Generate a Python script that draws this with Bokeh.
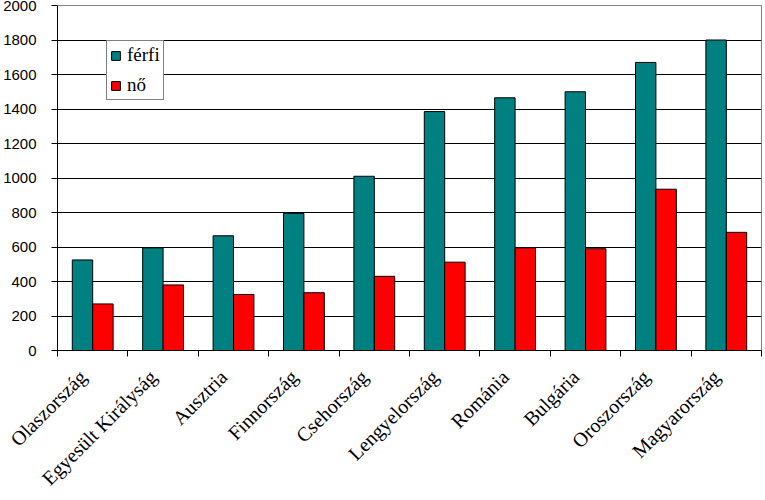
import math
from bokeh.plotting import figure
from bokeh.models import ColumnDataSource, FixedTicker, Range1d, Legend, LegendItem
from bokeh.transform import dodge
from bokeh.embed import file_html
from bokeh.resources import INLINE

categories = ["Olaszország", "Egyesült Királyság", "Ausztria", "Finnország", "Csehország",
              "Lengyelország", "Románia", "Bulgária", "Oroszország", "Magyarország"]
ferfi = [525, 595, 665, 795, 1010, 1385, 1465, 1500, 1670, 1800]
no = [270, 380, 325, 335, 430, 512, 595, 590, 935, 685]
y_ticks = [0, 200, 400, 600, 800, 1000, 1200, 1400, 1600, 1800, 2000]
grid_ticks = [200, 400, 600, 800, 1000, 1200, 1400, 1600, 1800]

n = len(categories)
centers = [i + 0.5 for i in range(n)]
bounds = list(range(n + 1))
label_pos = [c - 0.14 for c in centers]
src = ColumnDataSource(dict(x=centers, ferfi=ferfi, no=no))

p = figure(width=765, height=500, output_backend="svg", toolbar_location=None,
           x_range=Range1d(0, n), y_range=Range1d(0, 2000),
           min_border_left=56, min_border_right=4, min_border_top=5, min_border_bottom=150)
p.background_fill_color = "white"
p.border_fill_color = "white"
p.outline_line_color = "#808080"
p.outline_line_width = 1

r1 = p.vbar(x=dodge('x', -0.145), top='ferfi', width=0.29, source=src,
            fill_color="#008080", line_color="black", line_width=1)
r2 = p.vbar(x=dodge('x', 0.145), top='no', width=0.29, source=src,
            fill_color="#FF0000", line_color="black", line_width=1)

# x axis: boundary ticks as minor ticks, category names as rotated major labels
xa = p.xaxis[0]
xa.ticker = FixedTicker(ticks=label_pos, minor_ticks=bounds)
xa.major_label_overrides = {c: name for c, name in zip(label_pos, categories)}
xa.major_tick_out = 0
xa.major_tick_in = 0
xa.minor_tick_out = 6
xa.minor_tick_in = 0
xa.minor_tick_line_color = "black"
xa.axis_line_color = "black"
xa.major_label_orientation = math.pi / 4
xa.major_label_text_font = "Liberation Serif"
xa.major_label_text_font_size = "20px"
xa.major_label_text_color = "black"
xa.major_label_standoff = 17

ya = p.yaxis[0]
ya.ticker = FixedTicker(ticks=y_ticks)
ya.major_tick_out = 6
ya.major_tick_in = 0
ya.minor_tick_out = 0
ya.minor_tick_in = 0
ya.axis_line_color = "black"
ya.major_tick_line_color = "black"
ya.major_label_text_font = "Liberation Sans"
ya.major_label_text_font_size = "15px"
ya.major_label_text_color = "black"
ya.major_label_standoff = 15

p.xgrid.visible = False
p.ygrid.ticker = FixedTicker(ticks=grid_ticks)
p.ygrid.grid_line_color = "black"
p.ygrid.grid_line_width = 1

legend = Legend(items=[LegendItem(label="férfi", renderers=[r1]),
                       LegendItem(label="nő", renderers=[r2])],
                location=(49, 250))
legend.border_line_color = "black"
legend.border_line_width = 1
legend.background_fill_color = "white"
legend.background_fill_alpha = 1
legend.label_text_font = "Liberation Serif"
legend.label_text_font_size = "19px"
legend.label_text_color = "black"
legend.label_height = 22
legend.glyph_width = 11
legend.glyph_height = 11
legend.padding = 3
legend.spacing = 8
legend.margin = 0
legend.label_standoff = 6
p.add_layout(legend)

open("out.html", "w").write(file_html(p, INLINE))
